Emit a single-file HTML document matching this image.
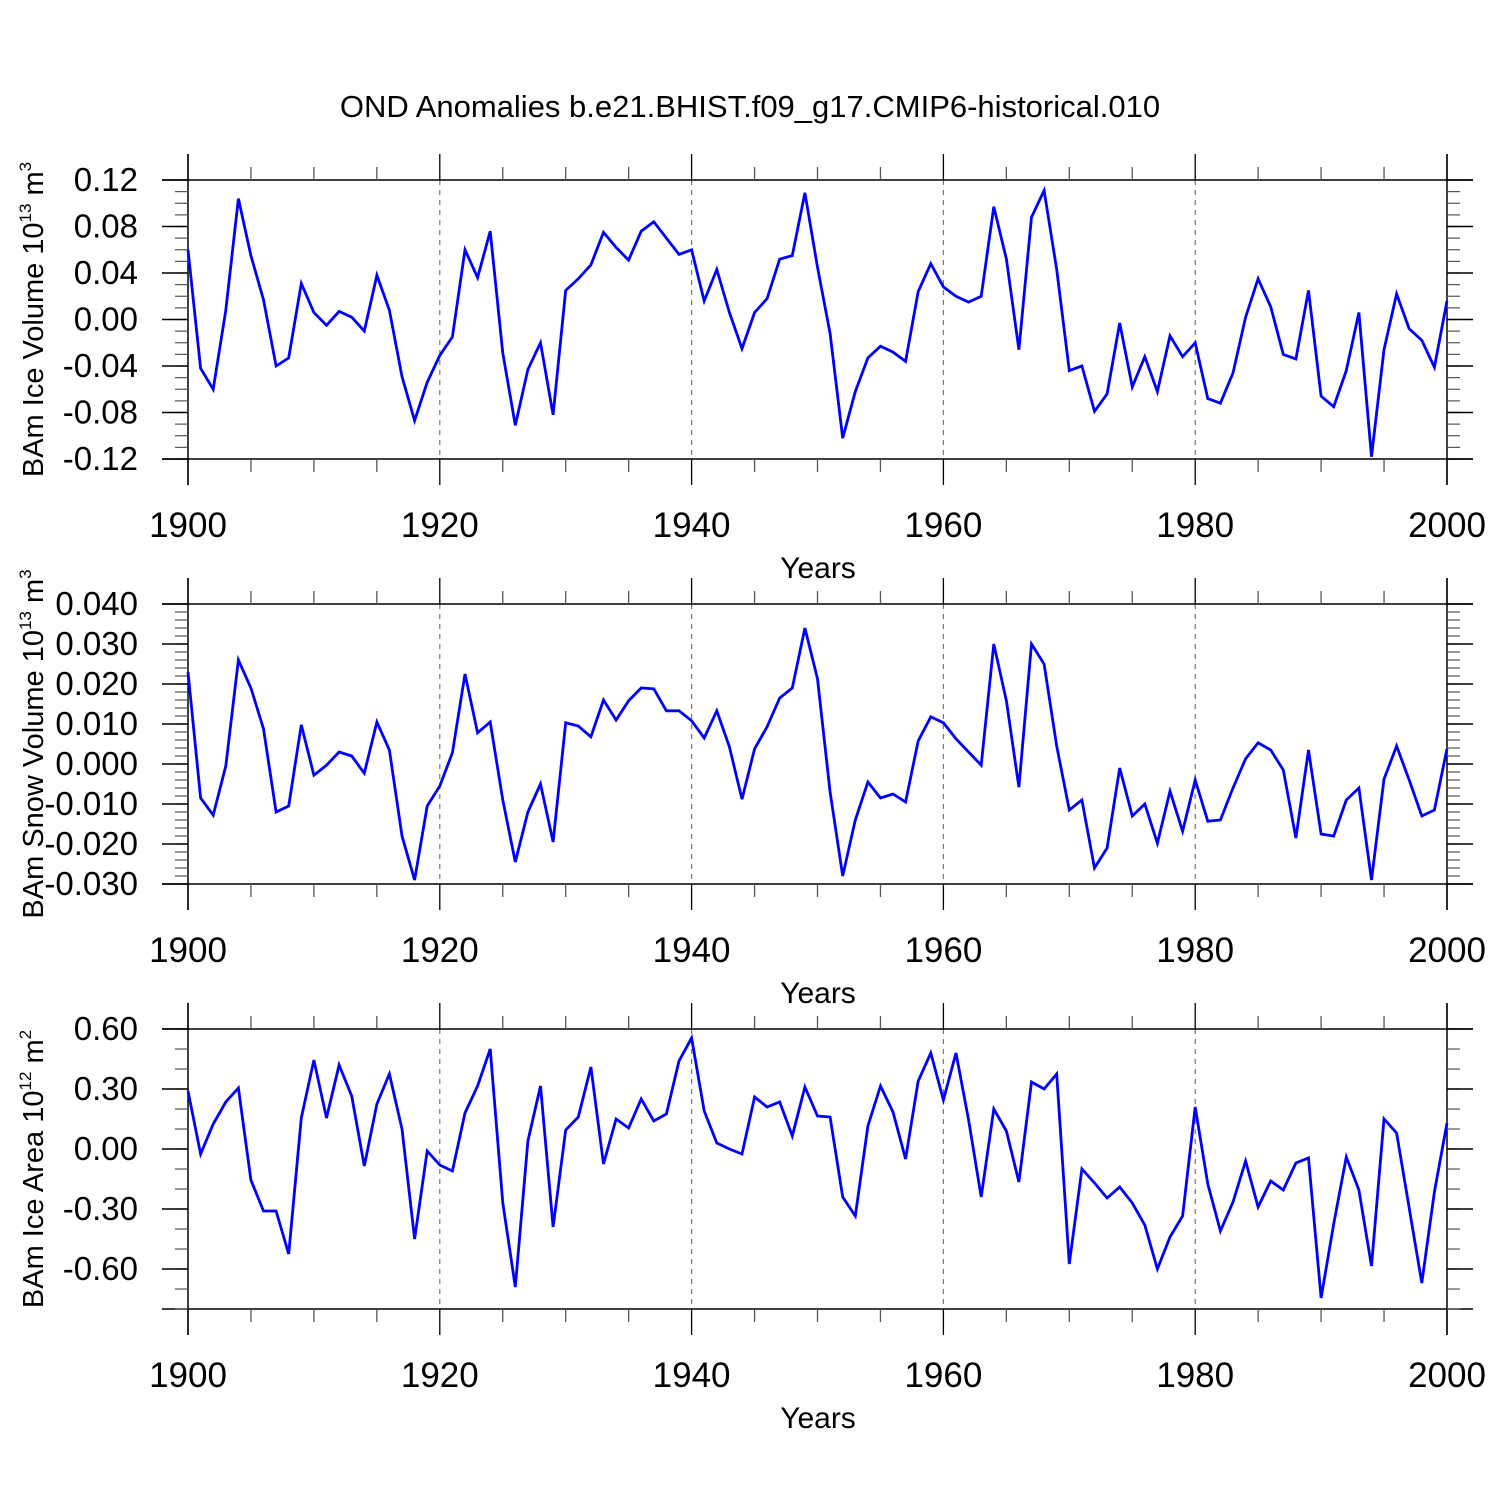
<!DOCTYPE html>
<html><head><meta charset="utf-8"><style>
html,body{margin:0;padding:0;background:#fff;}
svg{display:block;font-family:"Liberation Sans",sans-serif;}
</style></head><body>
<svg id="chart" width="1500" height="1500" viewBox="0 0 1500 1500" xmlns="http://www.w3.org/2000/svg">
<rect width="1500" height="1500" fill="#fff"/>
<text x="750" y="117" font-size="31" text-anchor="middle">OND Anomalies b.e21.BHIST.f09_g17.CMIP6-historical.010</text>
</svg>
<script>
const startYear = 1900;
const iceVolume = [0.060,-0.042,-0.060,0.008,0.104,0.055,0.017,-0.040,-0.033,0.031,0.006,-0.005,0.007,0.002,-0.010,0.038,0.008,-0.049,-0.087,-0.054,-0.031,-0.015,0.060,0.036,0.076,-0.029,-0.091,-0.043,-0.020,-0.082,0.025,0.035,0.047,0.075,0.062,0.051,0.076,0.084,0.070,0.056,0.060,0.016,0.043,0.006,-0.025,0.006,0.018,0.052,0.055,0.109,0.045,-0.012,-0.102,-0.062,-0.033,-0.023,-0.028,-0.036,0.024,0.048,0.028,0.020,0.015,0.020,0.097,0.052,-0.026,0.088,0.111,0.043,-0.044,-0.040,-0.079,-0.064,-0.003,-0.058,-0.032,-0.062,-0.014,-0.032,-0.020,-0.068,-0.072,-0.046,0.002,0.035,0.011,-0.030,-0.034,0.025,-0.066,-0.075,-0.044,0.006,-0.118,-0.026,0.022,-0.008,-0.018,-0.041,0.016];
const snowVolume = [0.023,-0.0085,-0.0128,-0.0005,0.026,0.019,0.0088,-0.012,-0.0105,0.0098,-0.0028,-0.0003,0.003,0.002,-0.0023,0.0105,0.0035,-0.018,-0.029,-0.0105,-0.0055,0.0028,0.0225,0.0078,0.0105,-0.009,-0.0245,-0.012,-0.005,-0.0195,0.0103,0.0095,0.0068,0.016,0.011,0.0158,0.019,0.0188,0.0133,0.0133,0.0108,0.0065,0.0133,0.0043,-0.0088,0.0038,0.0093,0.0165,0.019,0.034,0.0213,-0.007,-0.028,-0.014,-0.0045,-0.0085,-0.0075,-0.0095,0.0058,0.0118,0.0103,0.0063,0.003,-0.0003,0.030,0.0158,-0.0058,0.030,0.025,0.0045,-0.0115,-0.009,-0.026,-0.021,-0.001,-0.013,-0.010,-0.0198,-0.0068,-0.0168,-0.004,-0.0143,-0.014,-0.006,0.0013,0.0053,0.0035,-0.0015,-0.0185,0.0035,-0.0175,-0.018,-0.009,-0.006,-0.029,-0.0038,0.0045,-0.004,-0.013,-0.0115,0.0038];
const iceArea = [0.29,-0.025,0.125,0.235,0.305,-0.155,-0.31,-0.31,-0.525,0.155,0.445,0.155,0.42,0.265,-0.085,0.225,0.375,0.10,-0.45,-0.01,-0.08,-0.11,0.18,0.315,0.50,-0.27,-0.69,0.04,0.315,-0.39,0.095,0.16,0.41,-0.075,0.15,0.105,0.25,0.14,0.175,0.44,0.555,0.19,0.03,0.0,-0.025,0.26,0.21,0.235,0.065,0.31,0.165,0.16,-0.24,-0.335,0.115,0.315,0.185,-0.05,0.34,0.48,0.245,0.48,0.145,-0.24,0.20,0.09,-0.165,0.335,0.30,0.375,-0.575,-0.10,-0.17,-0.245,-0.19,-0.27,-0.38,-0.60,-0.44,-0.335,0.21,-0.175,-0.41,-0.265,-0.06,-0.29,-0.16,-0.205,-0.07,-0.045,-0.745,-0.375,-0.04,-0.205,-0.585,0.15,0.08,-0.295,-0.67,-0.215,0.13];
const xTickLabels = ["1900","1920","1940","1960","1980","2000"];
const iceVolTicks = ["0.12","0.08","0.04","0.00","-0.04","-0.08","-0.12"];
const snowVolTicks = ["0.040","0.030","0.020","0.010","0.000","-0.010","-0.020","-0.030"];
const iceAreaTicks = ["0.60","0.30","0.00","-0.30","-0.60"];

const NS = "http://www.w3.org/2000/svg";
const svg = document.getElementById('chart');
const X0 = 188, X1 = 1447;
function xs(yr){ return X0 + (yr - 1900) / 100 * (X1 - X0); }
function mk(tag, attrs, parent){
  const e = document.createElementNS(NS, tag);
  for (const k in attrs) e.setAttribute(k, attrs[k]);
  (parent || svg).appendChild(e);
  return e;
}

const panels = [
  {name:'ice-volume', top:180, bot:459, vmax:0.12, vmin:-0.12, ticks:iceVolTicks, minor:0.01, data:iceVolume, title:'BAm Ice Volume 10', exp:'13', unit:' m', uexp:'3'},
  {name:'snow-volume', top:604, bot:884, vmax:0.04, vmin:-0.03, ticks:snowVolTicks, minor:0.002, data:snowVolume, title:'BAm Snow Volume 10', exp:'13', unit:' m', uexp:'3'},
  {name:'ice-area', top:1029, bot:1309, vmax:0.6, vmin:-0.8, ticks:iceAreaTicks, minor:0.1, data:iceArea, title:'BAm Ice Area 10', exp:'12', unit:' m', uexp:'2'}
];

panels.forEach(p => {
  const g = mk('g', {});
  
  
  const ys = v => p.top + (p.vmax - v) / (p.vmax - p.vmin) * (p.bot - p.top);
  [1920,1940,1960,1980].forEach(yr => {
    const l = mk('line', {x1:xs(yr), x2:xs(yr), y1:p.top, y2:p.bot, stroke:'#777', 'stroke-width':1.2, 'stroke-dasharray':'5,5'}, g);
    
    
  });
  mk('line', {x1:162, x2:1473, y1:p.top, y2:p.top, stroke:'#000', 'stroke-width':1.5}, g);
  mk('line', {x1:162, x2:1473, y1:p.bot, y2:p.bot, stroke:'#000', 'stroke-width':1.5}, g);
  mk('line', {x1:X0, x2:X0, y1:p.top-26, y2:p.bot+26, stroke:'#000', 'stroke-width':1.5}, g);
  mk('line', {x1:X1, x2:X1, y1:p.top-26, y2:p.bot+26, stroke:'#000', 'stroke-width':1.5}, g);
  for (let yr = 1900; yr <= 2000; yr += 5) {
    const maj = yr % 20 === 0, len = maj ? 26 : 13;
    mk('line', {x1:xs(yr), x2:xs(yr), y1:p.top, y2:p.top-len, stroke: maj?'#000':'#555', 'stroke-width':1.3}, g);
    mk('line', {x1:xs(yr), x2:xs(yr), y1:p.bot, y2:p.bot+len, stroke: maj?'#000':'#555', 'stroke-width':1.3}, g);
  }
  xTickLabels.forEach(t => {
    const tx = mk('text', {x:xs(+t), y:p.bot+78, 'font-size':35, 'text-anchor':'middle'}, g);
    tx.textContent = t;
    
    
  });
  const xt = mk('text', {x:818, y:p.bot+119, 'font-size':30, 'text-anchor':'middle'}, g);
  xt.textContent = 'Years';
  
  
  const nMinor = Math.round((p.vmax - p.vmin) / p.minor);
  for (let i = 0; i <= nMinor; i++) {
    const y = ys(p.vmax - i * p.minor);
    mk('line', {x1:X0-13, x2:X0, y1:y, y2:y, stroke:'#555', 'stroke-width':1.2}, g);
    mk('line', {x1:X1, x2:X1+13, y1:y, y2:y, stroke:'#555', 'stroke-width':1.2}, g);
  }
  p.ticks.forEach(t => {
    const y = ys(parseFloat(t));
    mk('line', {x1:162, x2:X0, y1:y, y2:y, stroke:'#000', 'stroke-width':1.4}, g);
    mk('line', {x1:X1, x2:1473, y1:y, y2:y, stroke:'#000', 'stroke-width':1.4}, g);
    const tx = mk('text', {x:138, y:y+11, 'font-size':33, 'text-anchor':'end'}, g);
    tx.textContent = t;
    
    
  });
  const cy = (p.top + p.bot) / 2;
  const yt = mk('text', {x:0, y:0, 'font-size':29, 'text-anchor':'middle', transform:`translate(43,${cy}) rotate(-90)`}, g);
  
  
  const s1 = mk('tspan', {}, yt); s1.textContent = p.title;
  const s2 = mk('tspan', {dy:-12, 'font-size':17}, yt); s2.textContent = p.exp;
  const s3 = mk('tspan', {dy:12}, yt); s3.textContent = p.unit;
  const s4 = mk('tspan', {dy:-12, 'font-size':17}, yt); s4.textContent = p.uexp;
  const pts = p.data.map((v, i) => xs(startYear + i).toFixed(1) + ',' + ys(v).toFixed(1)).join(' ');
  const pl = mk('polyline', {points:pts, fill:'none', stroke:'#0000ff', 'stroke-width':2.8, 'stroke-linejoin':'miter'}, g);
  
  
});
</script>
</body></html>
